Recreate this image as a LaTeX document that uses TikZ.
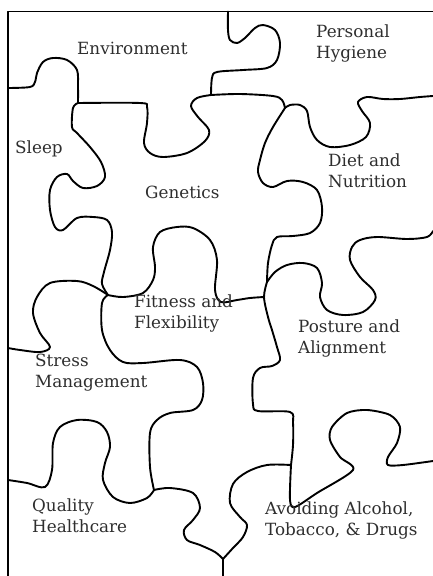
\documentclass[tikz,border=0pt]{standalone}
\usepackage{fontspec}
\setmainfont{DejaVu Serif}
\begin{document}
\begin{tikzpicture}[x=1pt,y=-1pt,
  edge/.style={line width=1.9pt,line join=round,line cap=round},
  cut/.style={edge},
  label/.style={font=\fontsize{16.8}{20.5}\selectfont,text=black!82,inner sep=0pt,anchor=base west,align=left}]
\useasboundingbox (0,0) rectangle (433,576);
% junctions
\coordinate (J1) at (78,103);
\coordinate (J2) at (211,95);
\coordinate (J2b) at (285,108);
\coordinate (J3) at (267,282);
\coordinate (J4) at (264,297);
\coordinate (J5) at (108,295);
\coordinate (J6) at (154,490);
\coordinate (J7) at (291,465);
\coordinate (J8) at (223,559);
\coordinate (TL) at (8,11.5);
\coordinate (TR) at (433,11.5);
\coordinate (BL) at (8,576);
\coordinate (QB) at (223,576);
% frame
\draw[edge] (BL) -- (TL) -- (TR);
% Environment / Sleep
\draw[cut] plot[smooth,tension=0.55] coordinates {(8,88) (30,87) (35,82) (37,73) (43,62) (53,58) (67,60) (77,70) (78,87) (J1)};
% Environment / Genetics
\draw[cut] plot[smooth,tension=0.55] coordinates {(J1) (140,103) (147,107) (147,123) (144,143) (150,153) (163,157) (187,153) (205,141) (209,130) (198,117) (191,106) (197,98) (J2)};
% Environment / Personal Hygiene
\draw[cut] plot[smooth,tension=0.55] coordinates {(228,11.5) (228,30) (230,40) (237,43) (245,38) (255,28) (263,25) (275,30) (280,43) (277,60) (267,68) (243,70) (217,72) (212,78) (J2)};
% Personal Hygiene / Genetics
\draw[cut] plot[smooth,tension=0.55] coordinates {(J2) (240,94) (273,96) (282,100) (J2b)};
% Personal Hygiene / Diet
\draw[cut] plot[smooth,tension=0.55] coordinates {(J2b) (290,105) (300,105) (307,111) (310,127) (317,140) (330,147) (350,145) (366,137) (370,123) (362,111) (358,102) (367,97) (383,99) (400,99) (420,97) (433,96)};
% Genetics / Diet
\draw[cut] plot[smooth,tension=0.55] coordinates {(J2b) (273,127) (265,143) (260,160) (258,172) (263,183) (273,187) (287,181) (303,182) (317,190) (322,207) (320,223) (310,233) (293,236) (277,237) (272,245) (268,263) (J3)};
% Diet / Posture
\draw[cut] plot[smooth,tension=0.55] coordinates {(J3) (275,272) (287,265) (303,263) (317,268) (322,283) (320,297) (327,310) (343,315) (363,312) (375,300) (373,290) (360,277) (350,260) (352,247) (360,240) (377,237) (407,239) (427,237) (433,231)};
% Fitness / Posture
\draw[cut] plot[smooth,tension=0.55] coordinates {(J3) (J4) (268,317) (272,330) (277,347) (280,360) (272,366) (260,368) (253,378) (253,404) (258,411) (290,412) (293,423) (293,445) (J7)};
% Genetics / Fitness
\draw[cut] plot[smooth,tension=0.55] coordinates {(J4) (250,298) (237,300) (221,302) (215,290) (217,260) (210,240) (193,228) (177,227) (160,232) (153,247) (155,267) (153,280) (143,293) (123,297) (J5)};
% Sleep / Genetics
\draw[cut] plot[smooth,tension=0.55] coordinates {(J1) (73,108) (72,127) (77,133) (90,147) (101,162) (105,177) (97,186) (83,188) (73,181) (67,174) (57,177) (50,190) (50,210) (55,227) (63,230) (77,218) (93,217) (107,220) (112,232) (110,250) (104,272) (102,284) (J5)};
% Sleep / Stress
\draw[cut] plot[smooth,tension=0.55] coordinates {(8,348) (20,350) (40,352) (50,347) (40,333) (33,313) (37,297) (50,283) (77,281) (93,286) (J5)};
% Stress / Fitness
\draw[cut] plot[smooth,tension=0.55] coordinates {(J5) (102,303) (102,330) (110,350) (123,362) (143,363) (180,360) (197,367) (203,383) (202,400) (193,410) (170,413) (157,420) (150,433) (150,467) (J6)};
% Stress / Quality
\draw[cut] plot[smooth,tension=0.55] coordinates {(8,480) (27,483) (45,487) (52,470) (53,443) (60,427) (77,420) (97,422) (107,432) (110,447) (105,463) (103,480) (113,497) (130,503) (147,498) (J6)};
% Fitness / Quality
\draw[cut] plot[smooth,tension=0.55] coordinates {(J6) (170,488) (193,493) (200,508) (193,520) (184,530) (187,540) (200,545) (215,552) (J8)};
% Quality / Avoiding
\draw[cut] (J8) -- (QB);
% Fitness / Avoiding
\draw[cut] plot[smooth,tension=0.55] coordinates {(J7) (267,465) (247,472) (233,484) (230,503) (240,517) (247,525) (243,537) (233,548) (J8)};
% Posture / Avoiding
\draw[cut] plot[smooth,tension=0.5] coordinates {(J7) (290,500) (295,507) (317,493) (353,470) (340,457) (330,440) (332,427) (347,413) (367,410) (390,415) (400,427) (397,443) (388,457) (388,465) (403,465) (433,461)};
% labels
\node[label] (env) at (77,54) {Environment};
\node[label] (ph) at (316,58) {Personal\\Hygiene};
\node[label] (sleep) at (15,153) {Sleep};
\node[label] (gen) at (145,198) {Genetics};
\node[label] (diet) at (328,187) {Diet and\\Nutrition};
\node[label] (fit) at (134,328) {Fitness and\\Flexibility};
\node[label] (post) at (298,353) {Posture and\\Alignment};
\node[label] (stress) at (35,387) {Stress\\Management};
\node[label] (qual) at (32,532) {Quality\\Healthcare};
\node[label] (avoid) at (265,535) {Avoiding Alcohol,\\Tobacco, \& Drugs};
\end{tikzpicture}
\end{document}
